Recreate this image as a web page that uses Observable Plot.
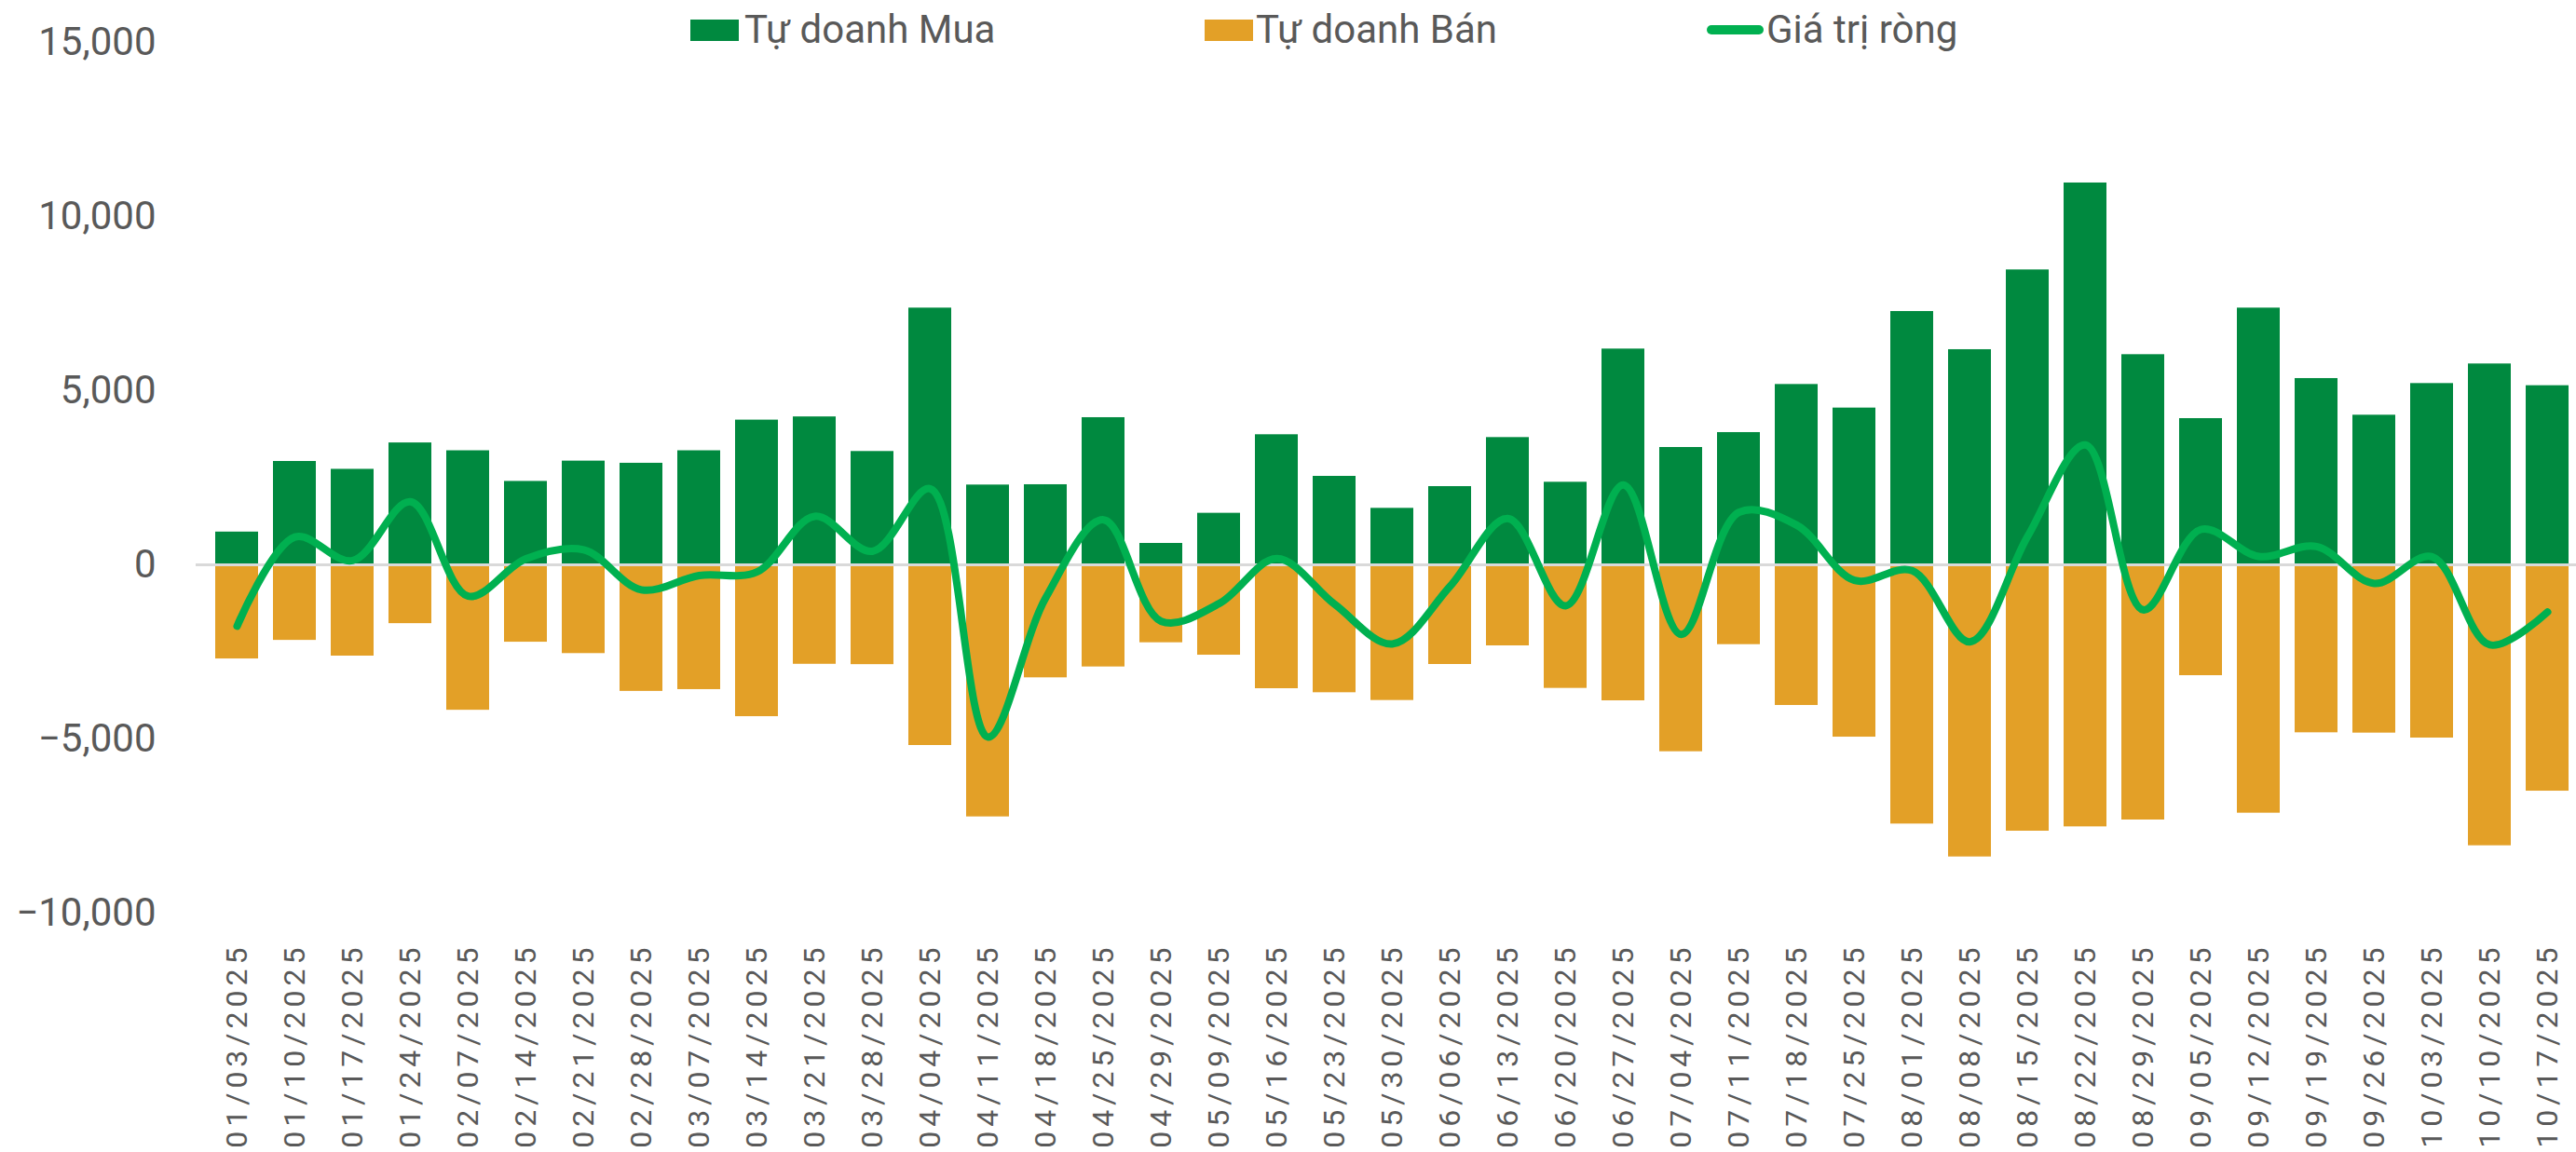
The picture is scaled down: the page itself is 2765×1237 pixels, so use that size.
<!DOCTYPE html>
<html>
<head>
<meta charset="utf-8">
<script src="https://cdn.jsdelivr.net/npm/d3@7"></script>
<script src="https://cdn.jsdelivr.net/npm/@observablehq/plot@0.6"></script>
<style>
  html, body { margin: 0; padding: 0; background: #ffffff; }
  #wrap { position: relative; width: 2765px; height: 1237px; overflow: hidden; }
  #legend { position: absolute; left: 0; top: 0; width: 2765px; height: 70px; font-family: Roboto, sans-serif; font-size: 42px; color: #595959; line-height: 1; pointer-events: none; }
  #legend .sw { position: absolute; top: 21px; width: 52px; height: 23px; }
  #legend .ln { position: absolute; top: 27px; width: 61px; height: 10px; border-radius: 5px; background: #00B050; }
  #legend .tx { position: absolute; top: 11px; white-space: nowrap; }
  g[aria-label="x-axis tick label"] text { letter-spacing: 5px; }
</style>
</head>
<body>
<div id="wrap">
  <div id="chart"></div>
  <div id="legend"></div>
</div>
<script>
const dates = ["01/03/2025","01/10/2025","01/17/2025","01/24/2025","02/07/2025","02/14/2025","02/21/2025","02/28/2025","03/07/2025","03/14/2025","03/21/2025","03/28/2025","04/04/2025","04/11/2025","04/18/2025","04/25/2025","04/29/2025","05/09/2025","05/16/2025","05/23/2025","05/30/2025","06/06/2025","06/13/2025","06/20/2025","06/27/2025","07/04/2025","07/11/2025","07/18/2025","07/25/2025","08/01/2025","08/08/2025","08/15/2025","08/22/2025","08/29/2025","09/05/2025","09/12/2025","09/19/2025","09/26/2025","10/03/2025","10/10/2025","10/17/2025"];
const buy = [941, 2968, 2742, 3500, 3275, 2395, 2978, 2916, 3275, 4155, 4247, 3254, 7371, 2291, 2300, 4225, 615, 1480, 3735, 2540, 1622, 2246, 3654, 2371, 6195, 3369, 3797, 5178, 4501, 7273, 6177, 8467, 10963, 6034, 4198, 7371, 5348, 4296, 5205, 5767, 5143];
const sell = [-2702, -2169, -2620, -1688, -4175, -2221, -2548, -3633, -3582, -4359, -2855, -2865, -5187, -7237, -3244, -2932, -2237, -2594, -3556, -3672, -3895, -2861, -2326, -3547, -3904, -5366, -2291, -4038, -4947, -7442, -8387, -7647, -7523, -7326, -3182, -7130, -4822, -4831, -4973, -8066, -6498];
const net = [-1761, 799, 122, 1812, -900, 174, 430, -717, -307, -204, 1392, 389, 2184, -4946, -944, 1293, -1622, -1114, 179, -1132, -2273, -615, 1328, -1176, 2291, -1997, 1506, 1140, -446, -169, -2210, 820, 3440, -1292, 1016, 241, 526, -535, 232, -2299, -1355];
const yTicks = [-10000, -5000, 0, 5000, 10000, 15000];
const seriesNames = ["Tự doanh Mua", "Tự doanh Bán", "Giá trị ròng"];
const seriesColors = ["#00893F", "#E3A027", "#00B050"];

const rows = dates.map((d, i) => ({date: d, buy: buy[i], sell: sell[i], net: net[i]}));

const chart = Plot.plot({
  width: 2765,
  height: 1237,
  marginLeft: 210,
  marginRight: 0,
  marginTop: 45,
  marginBottom: 257,
  style: {fontFamily: "Roboto, sans-serif", color: "#595959", background: "#ffffff"},
  x: {type: "band", domain: dates, range: [210.4, 2777], paddingInner: 0.265, paddingOuter: 0.1325, label: null},
  y: {domain: [-10000, 15000], label: null},
  marks: [
    Plot.barY(rows, {x: "date", y: "buy", fill: seriesColors[0]}),
    Plot.barY(rows, {x: "date", y: "sell", fill: seriesColors[1]}),
    Plot.ruleY([0], {stroke: "#d9d9d9", strokeWidth: 3}),
    Plot.line(rows, {x: "date", y: "net", stroke: seriesColors[2], strokeWidth: 8, curve: "catmull-rom", strokeLinecap: "round", strokeLinejoin: "round"}),
    Plot.axisY({ticks: yTicks, tickFormat: d3.format(","), tickSize: 0, tickPadding: 43, fontSize: 42, label: null}),
    Plot.axisX({tickRotate: -90, tickSize: 0, tickPadding: 32, fontSize: 32, label: null})
  ]
});
document.getElementById("chart").appendChild(chart);

const legend = document.getElementById("legend");
const items = [
  {kind: "sw", x: 741, tx: 799},
  {kind: "sw", x: 1293, tx: 1348},
  {kind: "ln", x: 1832, tx: 1896}
];
items.forEach((it, i) => {
  const m = document.createElement("div");
  m.className = it.kind;
  m.style.left = it.x + "px";
  if (it.kind === "sw") m.style.background = seriesColors[i];
  legend.appendChild(m);
  const t = document.createElement("div");
  t.className = "tx";
  t.style.left = it.tx + "px";
  t.textContent = seriesNames[i];
  legend.appendChild(t);
});
</script>
</body>
</html>
